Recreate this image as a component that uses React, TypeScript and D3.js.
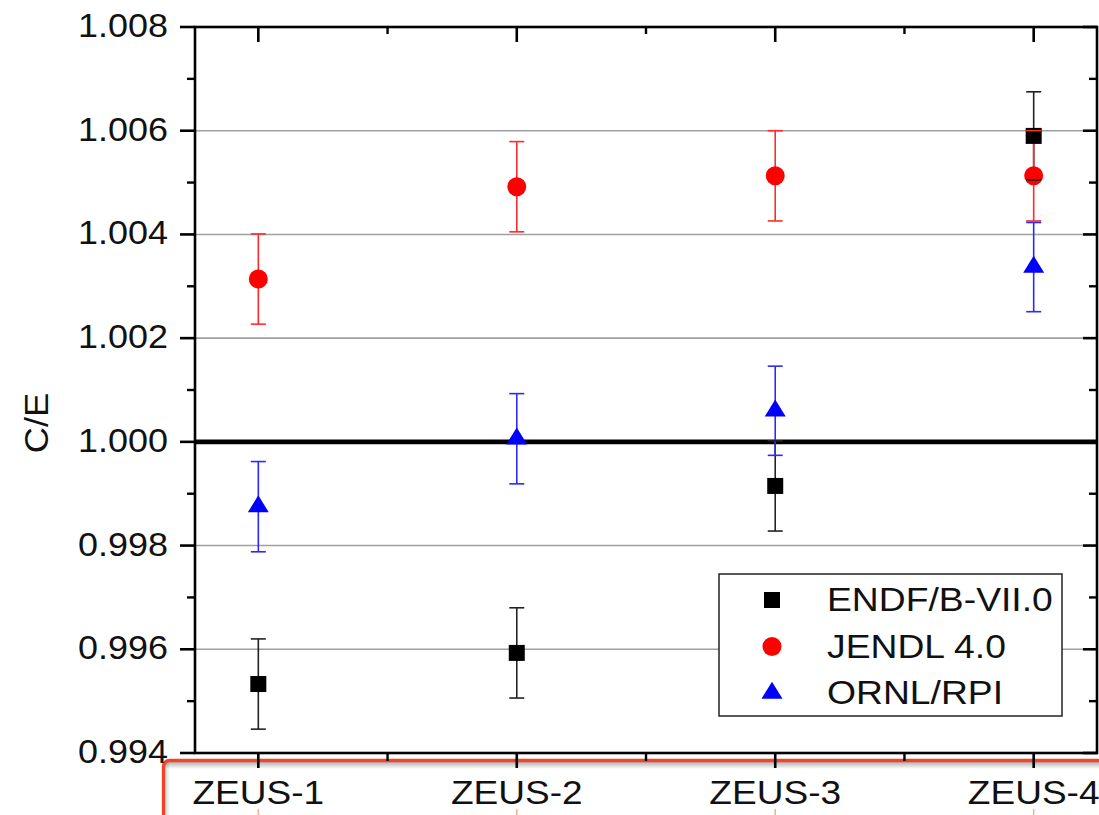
import React from "react";
import * as d3 from "d3";

const categories = ["ZEUS-1", "ZEUS-2", "ZEUS-3", "ZEUS-4"];
const endfValues = [0.99533, 0.99593, 0.99915, 1.0059];
const endfErrors = [0.00087, 0.00087, 0.00087, 0.00085];
const jendlValues = [1.00314, 1.00492, 1.00513, 1.00513];
const jendlErrors = [0.00087, 0.00087, 0.00087, 0.00087];
const ornlValues = [0.99875, 1.00006, 1.0006, 1.00337];
const ornlErrors = [0.00087, 0.00087, 0.00086, 0.00086];
const yTickValues = [0.994, 0.996, 0.998, 1.0, 1.002, 1.004, 1.006, 1.008];
const yMinorTicks = [0.995, 0.997, 0.999, 1.001, 1.003, 1.005, 1.007];
const gridValues = [0.996, 0.998, 1.002, 1.004, 1.006];
const seriesNames = ["ENDF/B-VII.0", "JENDL 4.0", "ORNL/RPI"];

const FONT = "'Liberation Sans', Arial, sans-serif";

type Series = {
  name: string;
  values: number[];
  errors: number[];
  color: string;
  errColor: string;
  shape: "square" | "circle" | "triangle";
};

const series: Series[] = [
  { name: seriesNames[0], values: endfValues, errors: endfErrors, color: "#000000", errColor: "#222222", shape: "square" },
  { name: seriesNames[1], values: jendlValues, errors: jendlErrors, color: "#ff0000", errColor: "#ff2a2a", shape: "circle" },
  { name: seriesNames[2], values: ornlValues, errors: ornlErrors, color: "#0000ff", errColor: "#2a2aff", shape: "triangle" },
];

function Marker({ shape, cx, cy, color, scale = 1 }: { shape: string; cx: number; cy: number; color: string; scale?: number }) {
  if (shape === "square") {
    const s = 16 * scale;
    return <rect x={cx - s / 2} y={cy - s / 2} width={s} height={s} fill={color} />;
  }
  if (shape === "circle") {
    return <circle cx={cx} cy={cy} r={9.5 * scale} fill={color} />;
  }
  const w = 21 * scale;
  const h = 17 * scale;
  const pts = `${cx},${cy - (h * 2) / 3} ${cx + w / 2},${cy + h / 3} ${cx - w / 2},${cy + h / 3}`;
  return <polygon points={pts} fill={color} />;
}

function SText({ x, y, sx, size, anchor = "start", children, rotate = 0 }: any) {
  return (
    <text
      transform={`translate(${x},${y}) rotate(${rotate}) scale(${sx},1)`}
      fontFamily={FONT}
      fontSize={size}
      textAnchor={anchor}
      fill="#111"
    >
      {children}
    </text>
  );
}

export default function App() {
  const W = 1099;
  const H = 815;
  const left = 195;
  const right = 1097;
  const top = 27;
  const bottom = 753;

  const x = d3.scaleLinear().domain([0.755, 4.245]).range([left, right]);
  const y = d3.scaleLinear().domain([0.994, 1.008]).range([bottom, top]);
  const fmt = d3.format(".3f");
  const catIdx = categories.map((_, i) => i + 1);
  const minorX = [1.5, 2.5, 3.5];

  const boxX = 163.5;
  const boxY = 760.5;

  return (
    <div style={{ position: "absolute", left: 0, top: 0 }}>
      <svg width={W} height={H} style={{ display: "block", background: "#fff" }}>
        <defs>
          <linearGradient id="shTop" x1="0" y1="0" x2="0" y2="1">
            <stop offset="0" stopColor="#000" stopOpacity="0.3" />
            <stop offset="1" stopColor="#000" stopOpacity="0" />
          </linearGradient>
          <linearGradient id="shLeft" x1="0" y1="0" x2="1" y2="0">
            <stop offset="0" stopColor="#000" stopOpacity="0.18" />
            <stop offset="1" stopColor="#000" stopOpacity="0" />
          </linearGradient>
        </defs>
        <rect x={0} y={0} width={W} height={H} fill="#fff" />

        {/* grid lines */}
        {gridValues.map((v) => (
          <line key={v} x1={left} x2={right} y1={y(v)} y2={y(v)} stroke="#a0a0a0" strokeWidth={1.6} />
        ))}
        <line x1={left} x2={right} y1={y(1.0)} y2={y(1.0)} stroke="#000" strokeWidth={4.8} />

        {/* red highlight box with soft inner shadow */}
        <rect x={boxX + 1.5} y={boxY + 1.5} width={W} height={7} fill="url(#shTop)" />
        <rect x={boxX + 1.5} y={boxY + 1.5} width={5} height={H} fill="url(#shLeft)" />
        <rect x={boxX} y={boxY} width={980} height={120} rx={6} fill="none" stroke="#f0442a" strokeWidth={3.4} />
        {catIdx.map((c) => (
          <line key={"om" + c} x1={x(c)} x2={x(c)} y1={809} y2={815} stroke="#f3b08a" strokeWidth={1.5} />
        ))}

        {/* frame */}
        <rect x={left} y={top} width={right - left} height={bottom - top} fill="none" stroke="#000" strokeWidth={2.6} />

        {/* left ticks (outward) */}
        {yTickValues.map((v) => (
          <line key={"lt" + v} x1={left - 15} x2={left} y1={y(v)} y2={y(v)} stroke="#000" strokeWidth={2.6} />
        ))}
        {yMinorTicks.map((v) => (
          <line key={"lm" + v} x1={left - 8} x2={left} y1={y(v)} y2={y(v)} stroke="#000" strokeWidth={2.4} />
        ))}
        {/* right ticks (inward) */}
        {yTickValues.map((v) => (
          <line key={"rt" + v} x1={right - 14} x2={right} y1={y(v)} y2={y(v)} stroke="#000" strokeWidth={2.6} />
        ))}
        {yMinorTicks.map((v) => (
          <line key={"rm" + v} x1={right - 8} x2={right} y1={y(v)} y2={y(v)} stroke="#000" strokeWidth={2.4} />
        ))}
        {/* top ticks (inward) */}
        {catIdx.map((c) => (
          <line key={"tt" + c} x1={x(c)} x2={x(c)} y1={top} y2={top + 15} stroke="#000" strokeWidth={2.6} />
        ))}
        {minorX.map((c) => (
          <line key={"tm" + c} x1={x(c)} x2={x(c)} y1={top} y2={top + 7} stroke="#000" strokeWidth={2.4} />
        ))}
        {/* bottom ticks (outward) */}
        {catIdx.map((c) => (
          <line key={"bt" + c} x1={x(c)} x2={x(c)} y1={bottom} y2={bottom + 15} stroke="#000" strokeWidth={2.6} />
        ))}
        {minorX.map((c) => (
          <line key={"bm" + c} x1={x(c)} x2={x(c)} y1={bottom} y2={bottom + 8} stroke="#000" strokeWidth={2.4} />
        ))}

        {/* y tick labels */}
        {yTickValues.map((v) => (
          <SText key={"yl" + v} x={168} y={y(v) + 10} sx={1.09} size={33} anchor="end">
            {fmt(v)}
          </SText>
        ))}

        {/* y axis title */}
        <SText x={48} y={423} sx={1.1} size={33} anchor="middle" rotate={-90}>
          C/E
        </SText>

        {/* x labels */}
        {categories.map((c, i) => (
          <SText key={c} x={x(i + 1)} y={804} sx={1.09} size={34} anchor="middle">
            {c}
          </SText>
        ))}

        {/* error bar stems */}
        {series.map((s) =>
          s.values.map((v, i) => (
            <line
              key={s.name + "st" + i}
              x1={x(i + 1)}
              x2={x(i + 1)}
              y1={y(v + s.errors[i])}
              y2={y(v - s.errors[i])}
              stroke={s.errColor}
              strokeWidth={1.6}
            />
          ))
        )}
        {/* markers */}
        {series.map((s) =>
          s.values.map((v, i) => (
            <Marker key={s.name + "mk" + i} shape={s.shape} cx={x(i + 1)} cy={y(v)} color={s.color} />
          ))
        )}
        {/* caps */}
        {series.map((s) =>
          s.values.map((v, i) =>
            [v + s.errors[i], v - s.errors[i]].map((e, k) => (
              <line
                key={s.name + "cap" + i + "-" + k}
                x1={x(i + 1) - 7.5}
                x2={x(i + 1) + 7.5}
                y1={y(e)}
                y2={y(e)}
                stroke={s.errColor}
                strokeWidth={1.6}
              />
            ))
          )
        )}

        {/* legend */}
        <rect x={719} y={574} width={343} height={142} fill="#fff" stroke="#222" strokeWidth={1.5} />
        {series.map((s, i) => {
          const cy = 600 + i * 46.5;
          return (
            <g key={"lg" + s.name}>
              <Marker shape={s.shape} cx={772} cy={cy} color={s.color} scale={1.0} />
              <SText x={827} y={cy + 11} sx={1.13} size={33} anchor="start">
                {s.name}
              </SText>
            </g>
          );
        })}
      </svg>
    </div>
  );
}
